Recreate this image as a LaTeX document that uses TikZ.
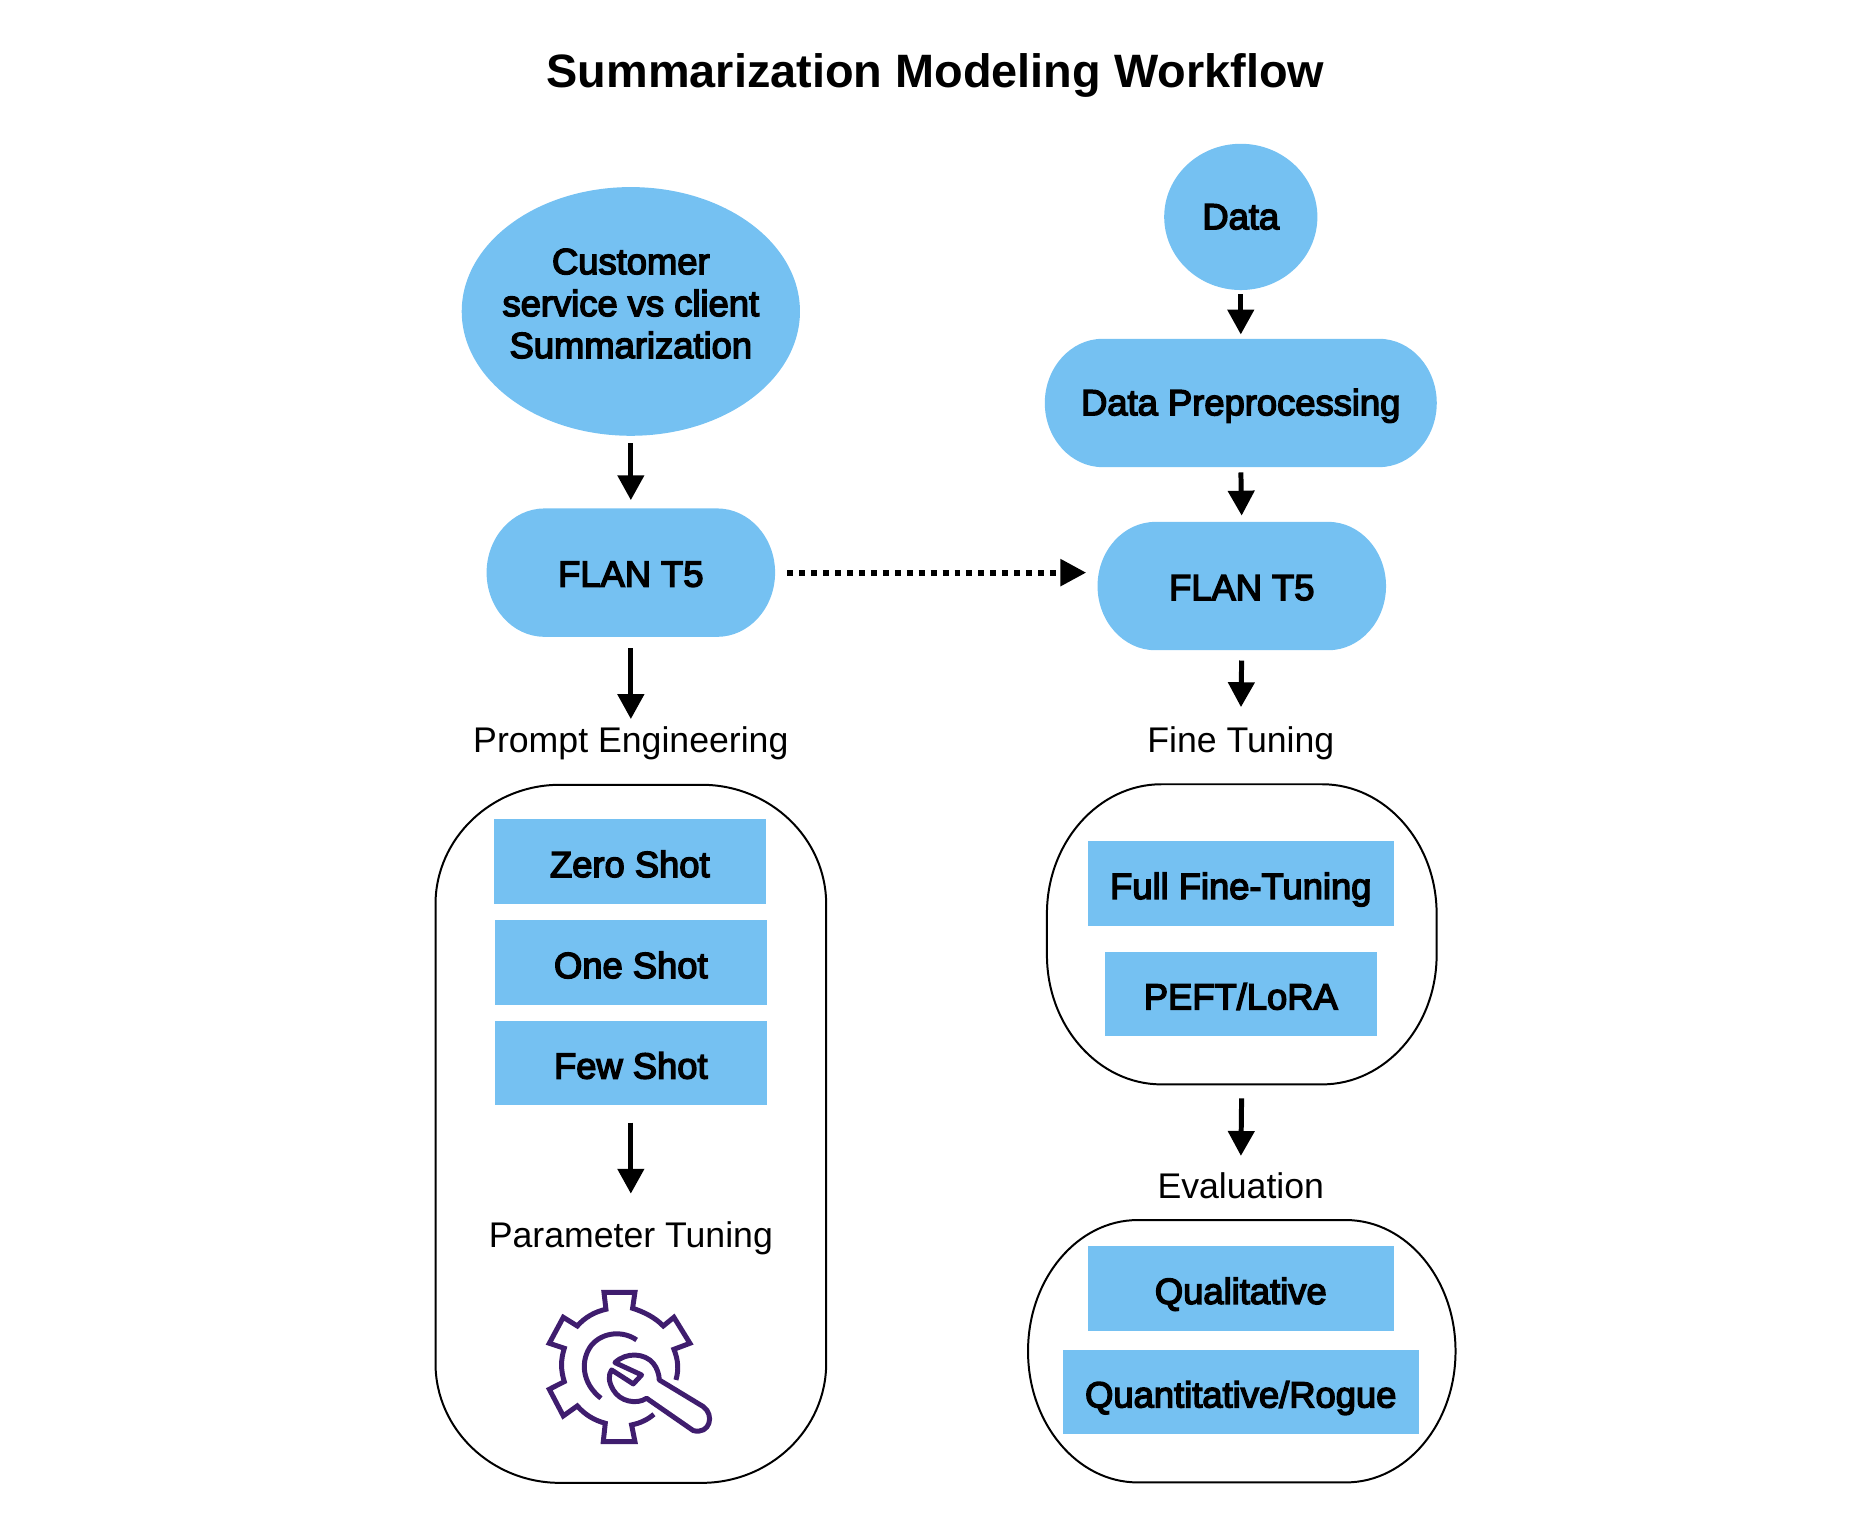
\documentclass[tikz,border=0pt]{standalone}
\usepackage{fontspec}
\setmainfont{Liberation Sans}
\newfontfamily\mediumfont[FakeBold=4]{Liberation Sans}
\usetikzlibrary{arrows.meta,calc,shapes.geometric}

\definecolor{boxblue}{HTML}{75C1F2}
\definecolor{iconpurple}{HTML}{3F1D6E}

% soft corners: node name, horizontal reach, vertical reach
\newcommand{\softpath}[3]{
  ($(#1.north west)+(0,#3)$)
  .. controls ($(#1.north west)+(0,0.45*#3)$) and ($(#1.north west)+(0.45*#2,0)$) .. ($(#1.north west)+(#2,0)$)
  -- ($(#1.north east)+(-#2,0)$)
  .. controls ($(#1.north east)+(-0.45*#2,0)$) and ($(#1.north east)+(0,0.45*#3)$) .. ($(#1.north east)+(0,#3)$)
  -- ($(#1.south east)+(0,-#3)$)
  .. controls ($(#1.south east)+(0,-0.45*#3)$) and ($(#1.south east)+(-0.45*#2,0)$) .. ($(#1.south east)+(-#2,0)$)
  -- ($(#1.south west)+(#2,0)$)
  .. controls ($(#1.south west)+(0.45*#2,0)$) and ($(#1.south west)+(0,-0.45*#3)$) .. ($(#1.south west)+(0,-#3)$)
  -- cycle}

\tikzset{
  bodyfont/.style={font=\fontsize{20.4}{24}\selectfont},
  boldfont/.style={font=\fontsize{20.8}{24}\selectfont\mediumfont},
  bluebox/.style={boldfont, fill=boxblue, minimum height=1.7cm, inner sep=0pt, text height=18pt, text depth=0.4pt},
  pillbox/.style={boldfont, inner sep=0pt, minimum height=2.58cm, text height=16pt, text depth=0pt,
    path picture={\fill[boxblue] \softpath{path picture bounding box}{58}{64.5};}},
  outerbox/.style={inner sep=0pt},
  steplabel/.style={bodyfont, inner sep=0pt, minimum height=0.8cm, text height=15pt, text depth=0pt},
  flowarrow/.style={line width=0.1cm, -{Triangle[length=0.5cm, width=0.52cm]}},
  iconline/.style={line width=0.1cm, iconpurple, line join=miter}
}

\begin{document}
\begin{tikzpicture}[x=0.02cm, y=-0.02cm]
  \useasboundingbox (0,0) rectangle (1885.4,1523.6);

  % Title
  \node (title) at (940,76) {\fontsize{26.8}{30}\selectfont\bfseries Summarization Modeling Workflow};

  % Outer boxes
  \node[outerbox, minimum width=7.84cm, minimum height=14.02cm] (promptbox) at (634,1139.5) {};
  \node[outerbox, minimum width=7.82cm, minimum height=6.02cm] (finebox) at (1248,939) {};
  \node[outerbox, minimum width=8.58cm, minimum height=5.26cm] (evalbox) at (1248,1358) {};
  \draw[line width=0.04cm] \softpath{promptbox}{125}{120};
  \draw[line width=0.04cm] \softpath{finebox}{115}{130};
  \draw[line width=0.04cm] \softpath{evalbox}{110}{131.5};

  % Left column
  \node[ellipse, boldfont, fill=boxblue, inner xsep=-0.5cm, inner ysep=0pt, minimum width=6.8cm, minimum height=5cm, align=center] (customer) at (634,313)
    {Customer\\service vs client\\Summarization\\[-0.52cm]};
  \node[pillbox, minimum width=5.8cm] (flanleft) at (634,575.5) {FLAN T5};
  \node[steplabel] (prompt) at (634,743) {Prompt Engineering};
  \node[bluebox, minimum width=5.46cm] (zero) at (633,866) {Zero Shot};
  \node[bluebox, minimum width=5.46cm] (one) at (634,967.5) {One Shot};
  \node[bluebox, minimum width=5.46cm] (few) at (634,1068.5) {Few Shot};
  \node[steplabel] (param) at (634,1241) {Parameter Tuning};

  % Right column
  \node[ellipse, boldfont, fill=boxblue, inner sep=0pt, minimum width=3.08cm, minimum height=2.94cm] (data) at (1247,218) {Data};
  \node[pillbox, minimum width=7.88cm, text height=14pt] (preproc) at (1247,405) {Data Preprocessing};
  \node[pillbox, minimum width=5.8cm] (flanright) at (1248,589) {FLAN T5};
  \node[steplabel] (tuning) at (1247,743) {Fine Tuning};
  \node[bluebox, minimum width=6.16cm] (full) at (1247,888) {Full Fine-Tuning};
  \node[bluebox, minimum width=5.48cm] (peft) at (1247,999) {PEFT/LoRA};
  \node[steplabel] (eval) at (1247,1191) {Evaluation};
  \node[bluebox, minimum width=6.16cm] (quali) at (1247,1295) {Qualitative};
  \node[bluebox, minimum width=7.16cm] (quanti) at (1247,1399) {Quantitative/Rogue};

  % Arrows
  \draw[flowarrow, shorten <=0.14cm, shorten >=0.16cm] (customer.south) -- (flanleft.north);
  \draw[flowarrow, shorten <=0.22cm] (flanleft.south) -- (prompt.north);
  \draw[flowarrow, shorten <=0.34cm, shorten >=0.42cm] (few.south) -- (param.north);
  \draw[flowarrow, shorten <=0.08cm, shorten >=0.08cm] (data.south) -- (preproc.north);
  \draw[flowarrow, shorten <=0.1cm, shorten >=0.12cm] (preproc.south) -- (flanright.north);
  \draw[flowarrow, shorten <=0.2cm, shorten >=0.24cm] (flanright.south) -- (tuning.north);
  \draw[flowarrow, shorten <=0.28cm, shorten >=0.18cm] (finebox.south) -- (eval.north);

  % Dotted link
  \draw[line width=0.12cm, dash pattern=on 0.12cm off 0.12cm, -{Triangle[length=0.52cm, width=0.52cm]}, shorten <=0.24cm, shorten >=0.22cm]
    (flanleft.east) -- (flanleft.east -| flanright.west);

  % Gear icon
  \begin{scope}[shift={(502.5,1266.3)}, x=0.0067cm, y=-0.0067cm]
    \draw[iconline] (462,463) .. controls (442,480) and (420,490) .. (395,495) -- (405,545) -- (310,545) -- (316,490)
      .. controls (285,482) and (255,465) .. (232,438) -- (190,468) -- (148,388) -- (193,365)
      .. controls (182,330) and (182,300) .. (193,265) -- (148,250) -- (190,172) -- (232,198)
      .. controls (255,172) and (285,155) .. (318,148) -- (312,97) -- (405,97) -- (398,145)
      .. controls (430,155) and (465,172) .. (490,198) -- (522,172) -- (570,250) -- (522,268)
      .. controls (535,300) and (537,330) .. (528,360);
    \draw[iconline] (410,240) .. controls (370,212) and (310,215) .. (275,255)
      .. controls (240,300) and (245,370) .. (303,415);
    % Wrench
    \draw[iconline, line join=round] (345,308) .. controls (380,275) and (435,280) .. (460,310)
      .. controls (472,325) and (478,345) .. (478,360) -- (610,440)
      .. controls (645,465) and (630,525) .. (580,512) -- (440,415)
      .. controls (410,435) and (360,425) .. (340,390)
      .. controls (325,365) and (325,345) .. (335,330)
      -- (400,372) -- (425,345) -- cycle;
  \end{scope}
\end{tikzpicture}
\end{document}
